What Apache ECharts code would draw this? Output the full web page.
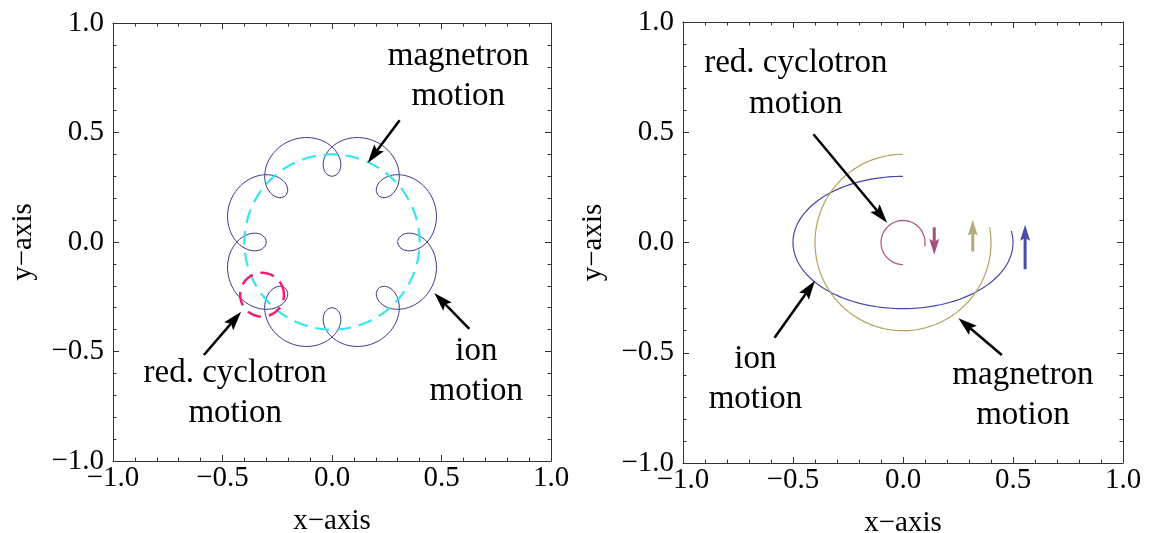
<!DOCTYPE html>
<html>
<head>
<meta charset="utf-8">
<script src="https://cdn.jsdelivr.net/npm/echarts@6/dist/echarts.min.js"></script>
<style>
  html, body { margin: 0; padding: 0; background: #ffffff; }
  #chart { width: 1149px; height: 533px; }
</style>
</head>
<body>
<div id="chart"></div>
<script>
// ---- axes -------------------------------------------------------------
const axisRange = [-1, 1];
const majorTickStep = 0.5;
const axisNames = ['x\u2212axis', 'y\u2212axis'];

// ---- Penning-trap motion parameters ----------------------------------
// radii of the magnetron circle and the reduced cyclotron circle
const motionRadii = [0.4, 0.1];
// left panel: cyclotron turns per magnetron turn, and phase (deg)
const epicycle = [9, 180];
// left panel: angular position (deg) of the dashed cyclotron ring centre
const ringCentreAngle = [217];
// right panel: swept magnetron phase (deg), start and end
const rightSweep = [90, 370];

// ---- annotations (data coordinates) -----------------------------------
const leftLabelText = ['magnetron\nmotion', 'ion\nmotion', 'red. cyclotron\nmotion'];
const leftLabelPos = [[0.577, 0.742], [0.659, -0.605], [-0.442, -0.705]];
const leftArrows = [
  [0.309, 0.556, 0.163, 0.361],
  [0.627, -0.397, 0.467, -0.233],
  [-0.585, -0.516, -0.415, -0.319]
];

const rightLabelText = ['red. cyclotron\nmotion', 'ion\nmotion', 'magnetron\nmotion'];
const rightLabelPos = [[-0.487, 0.705], [-0.671, -0.634], [0.545, -0.706]];
const rightArrows = [
  [-0.407, 0.491, -0.072, 0.090],
  [-0.584, -0.432, -0.400, -0.174],
  [0.449, -0.510, 0.252, -0.343]
];
// direction-of-rotation arrows: cyclotron, magnetron, ion
const turnArrows = [
  [0.142, 0.069, 0.142, -0.056],
  [0.317, -0.041, 0.317, 0.103],
  [0.555, -0.121, 0.555, 0.080]
];
const turnArrowColors = ['#a64c7e', '#b5ab78', '#4b4ba8'];

// ---- colours -----------------------------------------------------------
const ionLeftColor = '#35358f';
const magnetronGuideColor = '#35e6f0';
const cyclotronGuideColor = '#f01e6e';
const ionRightColor = '#4646ac';
const magnetronRightColor = '#b4a25c';
const cyclotronRightColor = '#b44c84';

const SERIF = '"Liberation Serif", "Times New Roman", serif';
const FRAME = '#333333';
const deg = Math.PI / 180;

// ---- curve sampling ----------------------------------------------------
function sample(n, fn) {
  const pts = [];
  for (let i = 0; i <= n; i++) pts.push(fn(i / n));
  return pts;
}
const [Rm, Rc] = motionRadii;

// ion: magnetron circle plus co-rotating reduced cyclotron epicycle
const ionLeft = sample(1440, t => {
  const th = 2 * Math.PI * t;
  const ph = epicycle[0] * th + epicycle[1] * deg;
  return [Rm * Math.cos(th) + Rc * Math.cos(ph), Rm * Math.sin(th) + Rc * Math.sin(ph)];
});
const magnetronGuide = sample(360, t => {
  const th = 2 * Math.PI * t;
  return [Rm * Math.cos(th), Rm * Math.sin(th)];
});
const ringC = [Rm * Math.cos(ringCentreAngle[0] * deg), Rm * Math.sin(ringCentreAngle[0] * deg)];
const cyclotronGuide = sample(180, t => {
  const th = 2 * Math.PI * t;
  return [ringC[0] + Rc * Math.cos(th), ringC[1] + Rc * Math.sin(th)];
});

// right panel: counter-rotating components over the same phase sweep
const sweepAt = t => (rightSweep[0] + (rightSweep[1] - rightSweep[0]) * t) * deg;
const magnetronRight = sample(300, t => {
  const th = sweepAt(t);
  return [Rm * Math.cos(th), Rm * Math.sin(th)];
});
const cyclotronRight = sample(300, t => {
  const th = sweepAt(t);
  return [Rc * Math.cos(-th), Rc * Math.sin(-th)];
});
const ionRight = sample(300, t => {
  const th = sweepAt(t);
  return [Rm * Math.cos(th) + Rc * Math.cos(-th), Rm * Math.sin(th) + Rc * Math.sin(-th)];
});

// ---- axis builders -----------------------------------------------------
const fmt = v => (v < 0 ? '\u2212' : '') + Math.abs(v).toFixed(1);

function baseAxis(gridIndex, position, withLabels, name) {
  const isX = position === 'bottom' || position === 'top';
  const ax = {
    type: 'value',
    gridIndex,
    position,
    min: axisRange[0],
    max: axisRange[1],
    interval: majorTickStep,
    axisLine: { show: true, onZero: false, lineStyle: { color: FRAME, width: 1 } },
    axisTick: { show: true, inside: true, length: 6, lineStyle: { color: FRAME, width: 1 } },
    minorTick: { show: true, splitNumber: 5, length: 3.5, lineStyle: { color: FRAME, width: 1 } },
    splitLine: { show: false },
    minorSplitLine: { show: false },
    axisLabel: {
      show: withLabels,
      formatter: fmt,
      fontFamily: SERIF,
      fontSize: 29,
      color: '#000',
      margin: isX ? 3 : 9,
      hideOverlap: false
    }
  };
  if (name) {
    ax.name = name;
    ax.nameLocation = 'middle';
    ax.nameGap = isX ? 46 : 75;
    ax.nameTextStyle = { fontFamily: SERIF, fontSize: 29, color: '#000' };
  }
  return ax;
}

// ---- custom renderers --------------------------------------------------
function arrowRenderer(colorOf, shaftW, headL, headW) {
  return function (params, api) {
    const a = api.coord([api.value(0), api.value(1)]);
    const b = api.coord([api.value(2), api.value(3)]);
    const dx = b[0] - a[0], dy = b[1] - a[1];
    const len = Math.hypot(dx, dy);
    const ux = dx / len, uy = dy / len, nx = -uy, ny = ux;
    const base = [b[0] - ux * headL, b[1] - uy * headL];
    const notch = [b[0] - ux * headL * 0.82, b[1] - uy * headL * 0.82];
    const color = colorOf(params.dataIndex);
    return {
      type: 'group',
      children: [
        {
          type: 'line',
          shape: { x1: a[0], y1: a[1], x2: notch[0], y2: notch[1] },
          style: { stroke: color, lineWidth: shaftW }
        },
        {
          type: 'polygon',
          shape: {
            points: [
              b,
              [base[0] + nx * headW / 2, base[1] + ny * headW / 2],
              notch,
              [base[0] - nx * headW / 2, base[1] - ny * headW / 2]
            ]
          },
          style: { fill: color }
        }
      ]
    };
  };
}

function textRenderer(texts) {
  return function (params, api) {
    const p = api.coord([api.value(0), api.value(1)]);
    return {
      type: 'text',
      x: p[0],
      y: p[1] - 3,
      style: {
        text: texts[params.dataIndex],
        fill: '#000',
        font: '33px ' + SERIF,
        align: 'center',
        verticalAlign: 'middle',
        lineHeight: 40.5
      }
    };
  };
}

function curve(data, xi, yi, color, width, dashed, z) {
  return {
    type: 'line',
    xAxisIndex: xi,
    yAxisIndex: yi,
    data,
    showSymbol: false,
    symbol: 'none',
    smooth: false,
    silent: true,
    animation: false,
    z: z || 2,
    lineStyle: { color, width, type: dashed ? [14, 8] : 'solid', cap: 'butt' }
  };
}

function arrows(data, xi, yi, colorOf, shaftW, headL, headW) {
  return {
    type: 'custom',
    xAxisIndex: xi,
    yAxisIndex: yi,
    data,
    encode: { x: [0, 2], y: [1, 3] },
    renderItem: arrowRenderer(colorOf, shaftW, headL, headW),
    silent: true,
    animation: false,
    z: 5
  };
}

function labels(pos, texts, xi, yi) {
  return {
    type: 'custom',
    xAxisIndex: xi,
    yAxisIndex: yi,
    data: pos,
    encode: { x: 0, y: 1 },
    renderItem: textRenderer(texts),
    silent: true,
    animation: false,
    z: 6
  };
}

const option = {
  backgroundColor: '#ffffff',
  animation: false,
  grid: [
    { left: 113, top: 23, width: 438, height: 438, outerBoundsMode: 'none', containLabel: false },
    { left: 683, top: 22, width: 440, height: 441, outerBoundsMode: 'none', containLabel: false }
  ],
  xAxis: [
    baseAxis(0, 'bottom', true, axisNames[0]),
    baseAxis(0, 'top', false),
    baseAxis(1, 'bottom', true, axisNames[0]),
    baseAxis(1, 'top', false)
  ],
  yAxis: [
    baseAxis(0, 'left', true, axisNames[1]),
    baseAxis(0, 'right', false),
    baseAxis(1, 'left', true, axisNames[1]),
    baseAxis(1, 'right', false)
  ],
  series: [
    // left panel
    curve(ionLeft, 0, 0, ionLeftColor, 1, false, 2),
    curve(magnetronGuide, 0, 0, magnetronGuideColor, 2.2, true, 3),
    curve(cyclotronGuide, 0, 0, cyclotronGuideColor, 2.5, true, 4),
    arrows(leftArrows, 0, 0, () => '#000', 2.5, 19, 12),
    labels(leftLabelPos, leftLabelText, 0, 0),
    // right panel
    curve(ionRight, 2, 2, ionRightColor, 1.2, false, 2),
    curve(magnetronRight, 2, 2, magnetronRightColor, 1.2, false, 2),
    curve(cyclotronRight, 2, 2, cyclotronRightColor, 1.2, false, 2),
    arrows(rightArrows, 2, 2, () => '#000', 2.5, 19, 12),
    arrows(turnArrows, 2, 2, i => turnArrowColors[i], 3, 16, 10),
    labels(rightLabelPos, rightLabelText, 2, 2)
  ]
};

const chart = echarts.init(document.getElementById('chart'), null, { renderer: 'canvas' });
chart.setOption(option);
</script>
</body>
</html>
